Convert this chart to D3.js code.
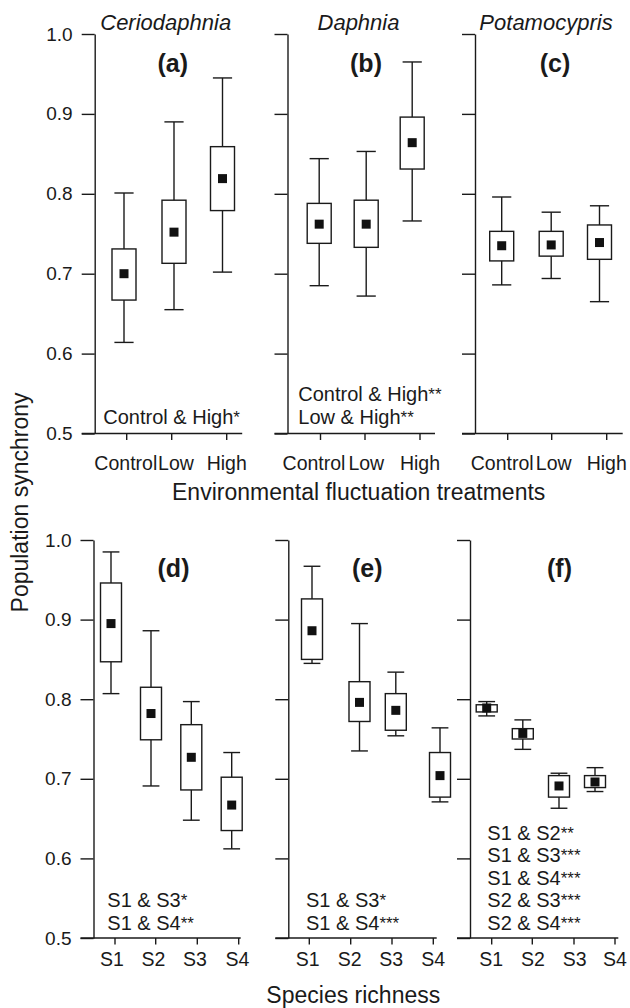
<!DOCTYPE html>
<html><head><meta charset="utf-8">
<script src="https://cdn.jsdelivr.net/npm/d3@7"></script>
<style>body{margin:0;background:#fff}</style>
</head><body><svg id="c" width="630" height="1008"></svg>
<script>
// ---------- data ----------
const treatments = ["Control", "Low", "High"];
const richness = ["S1", "S2", "S3", "S4"];
const species = ["Ceriodaphnia", "Daphnia", "Potamocypris"];
const letters = ["(a)", "(b)", "(c)", "(d)", "(e)", "(f)"];
const yTicks = [0.5, 0.6, 0.7, 0.8, 0.9, 1.0];
// each box: [lower whisker, box bottom, mean, box top, upper whisker]
const boxA = [[0.614, 0.667, 0.700, 0.731, 0.801], [0.655, 0.713, 0.752, 0.792, 0.890], [0.702, 0.779, 0.819, 0.859, 0.945]];
const boxB = [[0.685, 0.738, 0.762, 0.788, 0.844], [0.672, 0.733, 0.762, 0.792, 0.853], [0.766, 0.831, 0.864, 0.896, 0.965]];
const boxC = [[0.686, 0.716, 0.735, 0.753, 0.796], [0.694, 0.722, 0.736, 0.753, 0.777], [0.665, 0.718, 0.739, 0.761, 0.785]];
const boxD = [[0.807, 0.847, 0.895, 0.946, 0.985], [0.691, 0.749, 0.782, 0.815, 0.886], [0.648, 0.686, 0.727, 0.768, 0.797], [0.612, 0.635, 0.667, 0.702, 0.733]];
const boxE = [[0.845, 0.850, 0.886, 0.926, 0.967], [0.735, 0.772, 0.796, 0.822, 0.895], [0.754, 0.761, 0.786, 0.807, 0.834], [0.671, 0.677, 0.704, 0.733, 0.764]];
const boxF = [[0.779, 0.784, 0.789, 0.793, 0.797], [0.737, 0.750, 0.757, 0.763, 0.774], [0.663, 0.677, 0.691, 0.704, 0.707], [0.684, 0.689, 0.696, 0.704, 0.714]];
const notesA = ["Control & High*"];
const notesB = ["Control & High**", "Low & High**"];
const notesC = [];
const notesD = ["S1 & S3*", "S1 & S4**"];
const notesE = ["S1 & S3*", "S1 & S4***"];
const notesF = ["S1 & S2**", "S1 & S3***", "S1 & S4***", "S2 & S3***", "S2 & S4***"];
const xTitleTop = "Environmental fluctuation treatments";
const xTitleBottom = "Species richness";
const yTitle = "Population synchrony";

// ---------- layout ----------
const FONT = "'Liberation Sans', Arial, Helvetica, sans-serif";
const INK = "#1a1a1a";
const rows = [
  { y0: 433.5, y1: 34, labelY: 470, boxW: 24 },
  { y0: 938, y1: 540, labelY: 966, boxW: 21 }
];
const panels = [
  { row: 0, ax: 94.7, cats: treatments, ticks: [32, 77, 132], lab: [31.1, 81.3, 132], end: 147.5, bx: [29.3, 79.3, 127.8], data: boxA, notes: notesA, nx: 8.6, title: species[0], letter: letters[0], lx: 78, labels: true },
  { row: 0, ax: 287.5, cats: treatments, ticks: [33, 77.5, 132.5], lab: [26.5, 78.8, 132.5], end: 147.5, bx: [31.7, 78.7, 124.7], data: boxB, notes: notesB, nx: 10.8, title: species[1], letter: letters[1], lx: 78.5, labels: false },
  { row: 0, ax: 475, cats: treatments, ticks: [32.7, 76.7, 131.7], lab: [27.2, 78.7, 131.7], end: 147.7, bx: [26.7, 76.2, 124.5], data: boxC, notes: notesC, nx: 10, title: species[2], letter: letters[2], lx: 80, labels: false },
  { row: 1, ax: 93.5, cats: richness, ticks: [21.5, 62.2, 103.8, 145.2], lab: [18.5, 60, 101.5, 144], end: 147.2, bx: [17.5, 57.5, 97.8, 138.2], data: boxD, notes: notesD, nx: 13.8, title: null, letter: letters[3], lx: 80, labels: true },
  { row: 1, ax: 288.3, cats: richness, ticks: [21, 62.4, 103.7, 145], lab: [19.5, 61.5, 103, 145], end: 148.4, bx: [23.7, 71.2, 107.5, 151.7], data: boxE, notes: notesE, nx: 17.7, title: null, letter: letters[4], lx: 79, labels: false },
  { row: 1, ax: 470, cats: richness, ticks: [21.7, 62.3, 104, 145], lab: [21.3, 63, 104.7, 145], end: 148.3, bx: [16.7, 52.8, 89, 125], data: boxF, notes: notesF, nx: 17.3, title: null, letter: letters[5], lx: 89.5, labels: false }
];

const svg = d3.select("#c").style("font-family", FONT);
svg.append("rect").attr("width", 630).attr("height", 1008).attr("fill", "#fff");

panels.forEach(p => {
  const r = rows[p.row];
  const y = d3.scaleLinear().domain([0.5, 1.0]).range([r.y0, r.y1]);
  const xt = d3.scaleOrdinal().domain(p.cats).range(p.ticks.map(t => p.ax + t));
  const xl = d3.scaleOrdinal().domain(p.cats).range(p.lab.map(t => p.ax + t));
  const xb = d3.scaleOrdinal().domain(p.cats).range(p.bx.map(t => p.ax + t));
  const g = svg.append("g");

  // y axis
  const yAxis = d3.axisLeft(y).tickValues(yTicks).tickSize(13).tickSizeOuter(0).tickPadding(9)
    .tickFormat(p.labels ? d3.format(".1f") : () => "");
  const ya = g.append("g").attr("transform", `translate(${p.ax},0)`).call(yAxis);
  ya.selectAll("path, line").attr("stroke", INK).attr("stroke-width", 1.4);
  ya.selectAll("text").attr("fill", INK).attr("font-size", 19).attr("font-family", FONT);

  // x axis line
  g.append("line").attr("x1", p.ax - 13).attr("x2", p.ax + p.end)
    .attr("y1", y(0.5)).attr("y2", y(0.5)).attr("stroke", INK).attr("stroke-width", 1.4);
  g.selectAll(".xt").data(p.cats).join("line")
    .attr("x1", d => xt(d)).attr("x2", d => xt(d))
    .attr("y1", y(0.5)).attr("y2", y(0.5) + 6.5).attr("stroke", INK).attr("stroke-width", 1.4);
  g.selectAll(".xl").data(p.cats).join("text")
    .attr("x", d => xl(d)).attr("y", r.labelY).attr("text-anchor", "middle")
    .attr("font-size", 19.5).attr("fill", INK).text(d => d);

  // boxes
  const bw = r.boxW, cw = bw * 0.8;
  const bg = g.selectAll(".bx").data(p.data).join("g");
  bg.append("line").attr("x1", (d, i) => xb(p.cats[i])).attr("x2", (d, i) => xb(p.cats[i]))
    .attr("y1", d => y(d[0])).attr("y2", d => y(d[4])).attr("stroke", INK).attr("stroke-width", 1.4);
  [0, 4].forEach(k => {
    bg.append("line").attr("x1", (d, i) => xb(p.cats[i]) - cw / 2).attr("x2", (d, i) => xb(p.cats[i]) + cw / 2)
      .attr("y1", d => y(d[k])).attr("y2", d => y(d[k])).attr("stroke", INK).attr("stroke-width", 1.4);
  });
  bg.append("rect").attr("x", (d, i) => xb(p.cats[i]) - bw / 2).attr("width", bw)
    .attr("y", d => y(d[3])).attr("height", d => y(d[1]) - y(d[3]))
    .attr("fill", "#fff").attr("stroke", INK).attr("stroke-width", 1.4);
  bg.append("rect").attr("x", (d, i) => xb(p.cats[i]) - 4.5).attr("width", 9)
    .attr("y", d => y(d[2]) - 4.5).attr("height", 9).attr("fill", "#111");

  // panel letter
  g.append("text").attr("x", p.ax + p.lx).attr("y", p.row === 0 ? 72 : 577)
    .attr("text-anchor", "middle").attr("font-size", 25).attr("font-weight", "bold")
    .attr("fill", INK).text(p.letter);
  // title
  if (p.title) {
    g.append("text").attr("x", p.ax + 71).attr("y", 30).attr("text-anchor", "middle")
      .attr("font-size", 22).attr("font-style", "italic").attr("fill", INK).text(p.title);
  }
  // notes
  const lastY = p.row === 0 ? 424 : 930;
  const n = p.notes.length;
  p.notes.forEach((s, i) => {
    const idx = s.indexOf("*");
    const t = g.append("text").attr("x", p.ax + p.nx).attr("y", lastY - (n - 1 - i) * 22.6)
      .attr("font-size", 20).attr("fill", INK);
    t.append("tspan").text(s.slice(0, idx));
    t.append("tspan").attr("font-size", 17).attr("dy", -1).text(s.slice(idx));
  });
});

// axis titles
svg.append("text").attr("x", 358.7).attr("y", 500).attr("text-anchor", "middle")
  .attr("font-size", 23).attr("fill", INK).text(xTitleTop);
svg.append("text").attr("x", 353.3).attr("y", 1003).attr("text-anchor", "middle")
  .attr("font-size", 23).attr("fill", INK).text(xTitleBottom);
svg.append("text").attr("transform", "translate(28,502.5) rotate(-90)").attr("text-anchor", "middle")
  .attr("font-size", 23).attr("fill", INK).text(yTitle);
</script></body></html>
